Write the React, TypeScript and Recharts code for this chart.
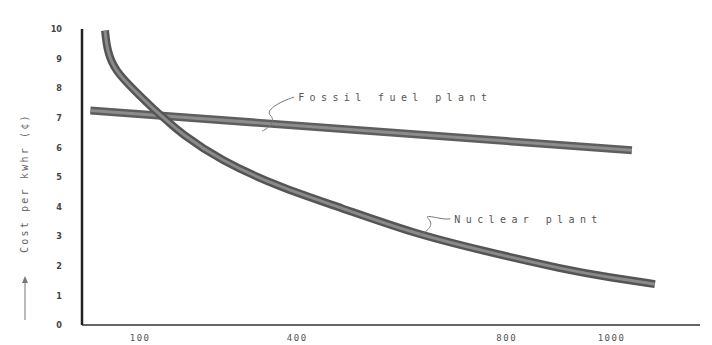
import React from "react";
import {
  ComposedChart,
  Line,
  XAxis,
  YAxis,
  ReferenceDot,
  Label,
} from "recharts";

// plant size (x) vs cost per kwhr in cents (y)
const nuclearX = [33, 37, 52, 90, 129, 152, 176, 253, 367, 482, 621, 749, 915, 1000, 1083];
const nuclearY = [9.95, 9.26, 8.59, 7.91, 7.24, 6.9, 6.5, 5.56, 4.65, 3.97, 3.1, 2.53, 1.85, 1.6, 1.38];
const fossilX = [5, 1039];
const fossilY = [7.25, 5.9];

const xTicks = [100, 400, 800, 1000];
const yTicks = [0, 1, 2, 3, 4, 5, 6, 7, 8, 9, 10];

const nuclear = nuclearX.map((x, i) => ({ x, cost: nuclearY[i] }));
const fossil = fossilX.map((x, i) => ({ x, cost: fossilY[i] }));

const labelFont = {
  fontFamily: "DejaVu Sans Mono",
  fontSize: 10,
  letterSpacing: 5.4,
  fill: "#555",
};

// callout text with the little curly pointer back to the line
const Callout = (props: any) => {
  const { cx, cy, text, dx, dy } = props;
  const x0 = cx + dx;
  const y0 = cy + dy;
  return (
    <g>
      <path
        d={`M${cx},${cy} C${cx + 8},${cy - 4} ${cx + 14},${cy - 10} ${cx + 8},${cy - 16} S${x0 - 12},${y0 - 2} ${x0 - 4},${y0 - 4}`}
        fill="none"
        stroke="#777"
        strokeWidth={1}
      />
      <text x={x0} y={y0} style={labelFont}>
        {text}
      </text>
    </g>
  );
};

// rotated axis title with the upward arrow below it
const YTitle = () => (
  <g transform="translate(25,0) rotate(-90)" fill="#666" stroke="none">
    <line x1={-320} y1={0} x2={-280} y2={0} stroke="#777" strokeWidth={1} />
    <path d="M-276,0 L-283,-3 L-283,3 Z" fill="#777" />
    <text
      x={-253}
      y={0}
      dominantBaseline="middle"
      style={{ fontFamily: "DejaVu Sans Mono", fontSize: 10, letterSpacing: 2.2, fill: "#666" }}
    >
      {"Cost per kwhr  (¢)"}
    </text>
  </g>
);

export default function App() {
  return (
    <div style={{ position: "absolute", left: 0, top: 0, background: "#fff" }}>
      <ComposedChart
        width={712}
        height={345}
        margin={{ top: 29, right: 12, bottom: 2, left: 2 }}
      >
        <XAxis
          type="number"
          dataKey="x"
          domain={[-11, 1169]}
          ticks={xTicks}
          allowDataOverflow
          height={18}
          tickLine={false}
          tickMargin={4}
          axisLine={{ stroke: "#333", strokeWidth: 1.5 }}
          tick={{ fontSize: 9, fill: "#555", fontFamily: "DejaVu Sans Mono", letterSpacing: 1.5 }}
        />
        <YAxis
          type="number"
          domain={[0, 10]}
          ticks={yTicks}
          width={80}
          tickLine={false}
          tickMargin={14}
          axisLine={{ stroke: "#222", strokeWidth: 2.5 }}
          tick={{ fontSize: 9, fill: "#444", fontWeight: "bold", fontFamily: "DejaVu Sans Condensed" }}
        >
          <Label content={<YTitle />} />
        </YAxis>
        <Line
          data={fossil}
          dataKey="cost"
          type="linear"
          stroke="#5e5e5e"
          strokeWidth={8}
          dot={false}
          isAnimationActive={false}
        />
        <Line
          data={fossil}
          dataKey="cost"
          type="linear"
          stroke="#8c8c8c"
          strokeWidth={3}
          dot={false}
          isAnimationActive={false}
        />
        <Line
          data={nuclear}
          dataKey="cost"
          type="basis"
          stroke="#555"
          strokeWidth={8}
          dot={false}
          isAnimationActive={false}
        />
        <Line
          data={nuclear}
          dataKey="cost"
          type="basis"
          stroke="#8a8a8a"
          strokeWidth={3}
          dot={false}
          isAnimationActive={false}
        />
        <ReferenceDot
          x={333}
          y={6.55}
          r={0}
          shape={(p: any) => <Callout {...p} text="Fossil fuel plant" dx={36} dy={-30} />}
        />
        <ReferenceDot
          x={635}
          y={3.05}
          r={0}
          shape={(p: any) => <Callout {...p} text="Nuclear plant" dx={34} dy={-12} />}
        />
      </ComposedChart>
    </div>
  );
}
